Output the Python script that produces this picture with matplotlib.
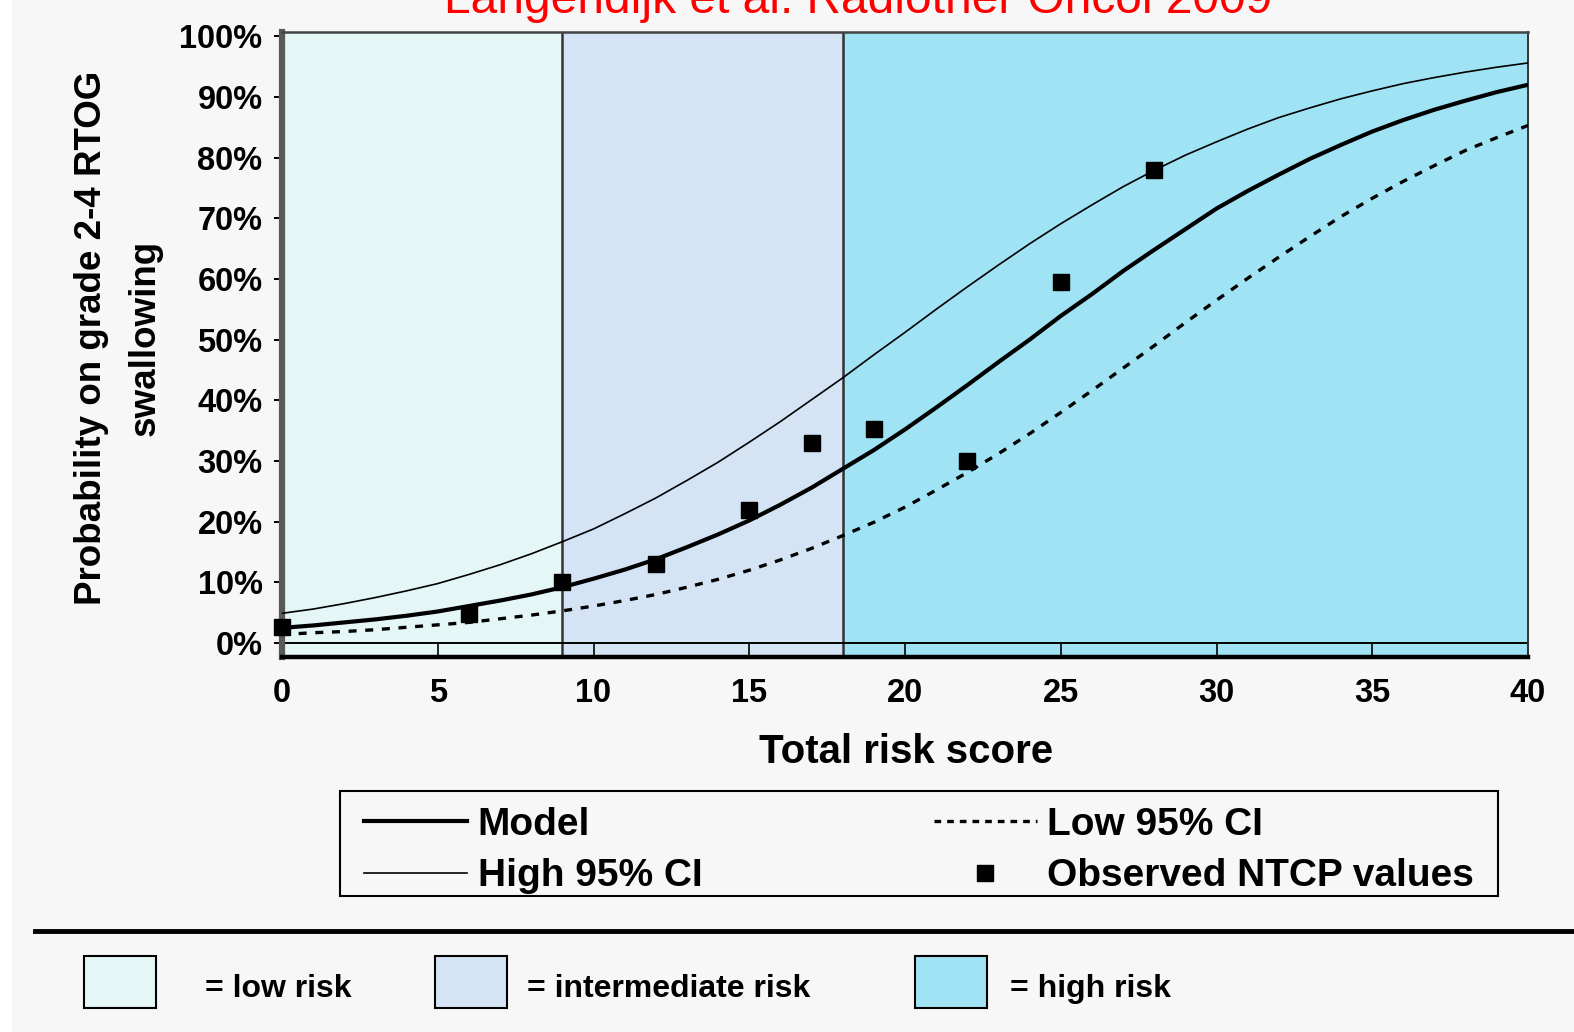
import matplotlib
matplotlib.use("Agg")
import matplotlib.pyplot as plt
from matplotlib.lines import Line2D
from matplotlib.patches import Rectangle

plt.rcParams['font.family'] = ['Liberation Sans', 'DejaVu Sans']
plt.rcParams['font.weight'] = 'bold'

# ---- data
risk_score = list(range(0, 41))
model = [2.5, 2.9, 3.4, 3.9, 4.5, 5.2, 6.1, 7.0, 8.0, 9.2, 10.6,
         12.1, 13.8, 15.8, 17.9, 20.2, 22.8, 25.6, 28.7, 31.8, 35.2,
         38.8, 42.5, 46.3, 50.0, 53.9, 57.5, 61.3, 64.8, 68.2, 71.6,
         74.5, 77.2, 79.8, 82.1, 84.3, 86.2, 87.9, 89.4, 90.8, 92.0]
high_ci = [4.9, 5.6, 6.5, 7.5, 8.6, 9.8, 11.3, 12.9, 14.7, 16.7, 18.8,
           21.3, 23.9, 26.8, 29.8, 33.1, 36.5, 40.1, 43.7, 47.5, 51.2,
           55.0, 58.7, 62.3, 65.8, 69.1, 72.2, 75.2, 77.9, 80.4, 82.6,
           84.7, 86.6, 88.2, 89.7, 91.0, 92.2, 93.2, 94.1, 94.9, 95.6]
low_ci = [1.4, 1.7, 1.9, 2.2, 2.6, 3.0, 3.4, 4.0, 4.6, 5.3, 6.1,
          7.0, 8.0, 9.2, 10.5, 12.0, 13.7, 15.6, 17.7, 19.9, 22.4,
          25.2, 28.1, 31.2, 34.5, 38.0, 41.6, 45.3, 49.0, 52.8, 56.5,
          60.1, 63.6, 67.0, 70.3, 73.3, 76.1, 78.7, 81.2, 83.3, 85.3]

obs_score = [0, 6, 9, 12, 15, 17, 19, 22, 25, 28]
obs_ntcp = [2.7, 4.8, 10.0, 13.0, 22.0, 33.0, 35.2, 30.0, 59.5, 78.0]

risk_bounds = [0, 9, 18, 40]
risk_names = ['= low risk', '= intermediate risk', '= high risk']
risk_colors = ['#e4f6f6', '#d4e4f5', '#9fe3f5']

y_ticks = [0, 10, 20, 30, 40, 50, 60, 70, 80, 90, 100]
x_ticks = [0, 5, 10, 15, 20, 25, 30, 35, 40]

W, H = 1574, 1032
bg = '#f7f7f7'

fig = plt.figure(figsize=(W / 100, H / 100), dpi=100, facecolor=bg)
fig.patches.append(Rectangle((0, 0), 12 / W, 1, transform=fig.transFigure,
                             facecolor='white', edgecolor='none', zorder=0))

ax = fig.add_axes([282 / W, 1 - 657 / H, 1246 / W, 625 / H])

# risk zones
for i in range(3):
    ax.axvspan(risk_bounds[i], risk_bounds[i + 1], color=risk_colors[i], lw=0, zorder=0)
for b in risk_bounds[1:-1]:
    ax.axvline(b, color='#333333', lw=1.8, zorder=1)
ax.axhline(0, color='black', lw=1.4, zorder=1)

ax.plot(risk_score, high_ci, color='black', lw=1.2, zorder=3)
ax.plot(risk_score, model, color='black', lw=3.0, zorder=3)
ax.plot(risk_score, low_ci, color='black', lw=2.4, dashes=(2.4, 2.6), zorder=3)
ax.plot(obs_score, obs_ntcp, 's', color='black', ms=12, zorder=5, clip_on=False)

ax.set_xlim(0, 40)
ax.set_ylim(-2.3, 100.7)
ax.set_yticks(y_ticks)
ax.set_yticklabels([f'{v}%' for v in y_ticks])
ax.set_xticks(x_ticks)
ax.tick_params(axis='y', direction='out', length=6, width=1.4, pad=8, labelsize=23.5)
ax.tick_params(axis='x', direction='in', length=9.5, width=1.2, pad=15, labelsize=23.5)

ax.spines['left'].set_color('#5a5a5a')
ax.spines['left'].set_linewidth(4.5)
ax.spines['bottom'].set_color('black')
ax.spines['bottom'].set_linewidth(3.2)
ax.spines['top'].set_color('#444444')
ax.spines['top'].set_linewidth(1.8)
ax.spines['right'].set_color('#333333')
ax.spines['right'].set_linewidth(1.4)

fig.text(118 / W, 1 - 338 / H, 'Probability on grade 2-4 RTOG\nswallowing',
         rotation=90, ha='center', va='center', fontsize=26.5, linespacing=1.68)
fig.text(906 / W, 1 - 752 / H, 'Total risk score', ha='center', va='center', fontsize=29)
fig.text(858 / W, 1 - 13 / H, 'Langendijk et al. Radiother Oncol 2009',
         ha='center', va='baseline', fontsize=34.5, fontweight='normal', color='red')

# legend box
fig.patches.append(Rectangle((340 / W, 1 - 896 / H), 1158 / W, 105 / H,
                             transform=fig.transFigure, facecolor='none',
                             edgecolor='black', lw=1.5))
handles = [
    Line2D([], [], color='black', lw=3.0),
    Line2D([], [], color='black', lw=1.2),
    Line2D([], [], color='black', lw=2.4, dashes=(2.0, 1.8)),
    Line2D([], [], color='black', marker='s', ls='none', ms=11),
]
labels = ['Model', 'High 95% CI', 'Low 95% CI', 'Observed NTCP values']
fig.legend(handles, labels, ncol=2, mode='expand', loc='center left',
           bbox_to_anchor=(364 / W, 1 - 903 / H, 1110 / W, 105 / H),
           bbox_transform=fig.transFigure, fontsize=28, frameon=False,
           handlelength=2.65, handletextpad=0.27, labelspacing=0.4,
           borderpad=0, borderaxespad=0, numpoints=1)

# separator and risk zone key
fig.add_artist(Line2D([35 / W, 1], [1 - 931 / H, 1 - 931 / H], color='black', lw=3.5))
swatch_x = [84, 435, 915]
label_x = [205, 527, 1010]
for i in range(3):
    fig.patches.append(Rectangle((swatch_x[i] / W, 1 - 1008 / H), 72 / W, 52 / H,
                                 transform=fig.transFigure, facecolor=risk_colors[i],
                                 edgecolor='black', lw=1.5))
    fig.text(label_x[i] / W, 1 - 989 / H, risk_names[i], ha='left', va='center', fontsize=23)

fig.savefig('out.png', dpi=100, facecolor=bg)
